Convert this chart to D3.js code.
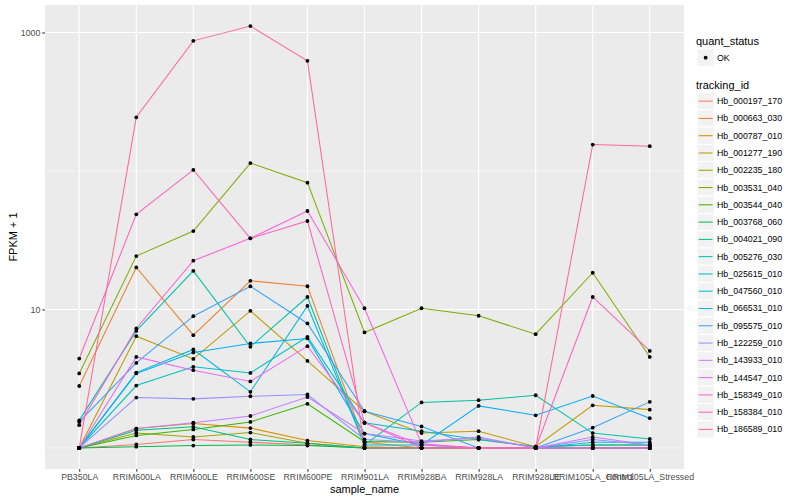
<!DOCTYPE html>
<html><head><meta charset="utf-8">
<script src="https://cdn.jsdelivr.net/npm/d3@7"></script>
<style>body{margin:0;background:#fff}svg{display:block;font-family:"Liberation Sans",Arial,Helvetica,sans-serif}</style>
</head><body><svg id="c" width="800" height="500"></svg>
<script>
const samples = ["PB350LA","RRIM600LA","RRIM600LE","RRIM600SE","RRIM600PE","RRIM901LA","RRIM928BA","RRIM928LA","RRIM928LE","RRIM105LA_Control","RRIM105LA_Stressed"];
const trackingIds = ["Hb_000197_170","Hb_000663_030","Hb_000787_010","Hb_001277_190","Hb_002235_180","Hb_003531_040","Hb_003544_040","Hb_003768_060","Hb_004021_090","Hb_005276_030","Hb_025615_010","Hb_047560_010","Hb_066531_010","Hb_095575_010","Hb_122259_010","Hb_143933_010","Hb_144547_010","Hb_158349_010","Hb_158384_010","Hb_186589_010"];
const colors = ["#F8766D","#EA8331","#D89000","#C09B00","#A3A500","#7CAE00","#39B600","#00BB4E","#00BF7D","#00C1A3","#00BFC4","#00BAE0","#00B0F6","#35A2FF","#9590FF","#C77CFF","#E76BF3","#FA62DB","#FF62BC","#FF6A98"];
// FPKM + 1 values, one array per tracking_id, in sample order
const v000197 = [1, 1.06, 1.15, 1.10, 1.05, 1, 1, 1, 1, 1, 1];
const v000663 = [2.80, 20.1, 6.52, 16.1, 14.7, 1.10, 1, 1, 1, 1, 1];
const v000787 = [1, 1.38, 1.50, 1.39, 1.13, 1.02, 1, 1, 1, 1, 1];
const v001277 = [1, 6.41, 4.39, 9.77, 4.25, 1.84, 1.28, 1.32, 1.02, 2.03, 1.89];
const v002235 = [1, 1.28, 1.20, 1.29, 1.08, 1, 1, 1, 1, 1, 1];
const v003531 = [3.45, 24.3, 36.8, 114, 82.3, 6.82, 10.2, 9.0, 6.63, 18.4, 4.54];
const v003544 = [1, 1.23, 1.36, 1.54, 2.08, 1.11, 1.10, 1.15, 1.02, 1.05, 1.05];
const v003768 = [1, 1.02, 1.04, 1.05, 1.04, 1, 1, 1, 1, 1, 1];
const v004021 = [1, 1.34, 1.42, 1.15, 1.08, 1, 1, 1, 1, 1, 1];
const v005276 = [1.58, 7.0, 19.0, 5.37, 12.3, 1.05, 2.13, 2.21, 2.40, 1.28, 1.16];
const v025615 = [1, 2.82, 3.85, 3.48, 6.34, 1.52, 1.32, 1.15, 1.02, 1.05, 1.05];
const v047560 = [1, 3.50, 5.14, 2.54, 10.6, 1.05, 1.05, 1.0, 1.0, 1.10, 1.10];
const v066531 = [1, 3.45, 4.89, 5.68, 6.17, 1.27, 1.05, 2.01, 1.72, 2.37, 1.64];
const v095575 = [1.54, 4.11, 8.94, 14.7, 7.92, 1.84, 1.43, 1.0, 1.0, 1.40, 2.15];
const v122259 = [1, 2.31, 2.26, 2.36, 2.43, 1.15, 1.10, 1.20, 1.0, 1.15, 1.05];
const v143933 = [1, 1.38, 1.52, 1.70, 2.33, 1.27, 1.12, 1.18, 1.0, 1.20, 1.05];
const v144547 = [1, 4.54, 3.64, 3.02, 5.43, 1.52, 1.05, 1, 1, 1, 1];
const v158349 = [1.46, 7.29, 22.5, 32.6, 51.4, 10.2, 1.07, 1, 1, 1, 1];
const v158384 = [4.42, 48.6, 101.7, 32.6, 43.5, 1.52, 1, 1, 1, 12.3, 5.02];
const v186589 = [1, 244, 870, 1112, 624, 1, 1, 1, 1, 155, 151];
const seriesValues = [v000197,v000663,v000787,v001277,v002235,v003531,v003544,v003768,v004021,v005276,v025615,v047560,v066531,v095575,v122259,v143933,v144547,v158349,v158384,v186589];
const yMajor = [10, 1000];
const yMinor = [1, 100];

const svg = d3.select("#c");
const P = {l:45, r:684, t:5, b:469};
const all = seriesValues.flat();
const lo = Math.log10(d3.min(all)), hi = Math.log10(d3.max(all));
const ex = (hi - lo) * 0.05;
const y = d3.scaleLog().domain([Math.pow(10, lo - ex), Math.pow(10, hi + ex)]).range([P.b, P.t]);
const x = d3.scalePoint().domain(samples).range([P.l, P.r]).padding(0.6);

svg.append("rect").attr("x",P.l).attr("y",P.t).attr("width",P.r-P.l).attr("height",P.b-P.t).attr("fill","#EBEBEB");
const g = svg.append("g");
g.selectAll("line.ymin").data(yMinor).join("line").attr("x1",P.l).attr("x2",P.r).attr("y1",d=>y(d)).attr("y2",d=>y(d)).attr("stroke","#fff").attr("stroke-width",0.55);
g.selectAll("line.ymaj").data(yMajor).join("line").attr("x1",P.l).attr("x2",P.r).attr("y1",d=>y(d)).attr("y2",d=>y(d)).attr("stroke","#fff").attr("stroke-width",1.1);
g.selectAll("line.xmaj").data(samples).join("line").attr("x1",d=>x(d)).attr("x2",d=>x(d)).attr("y1",P.t).attr("y2",P.b).attr("stroke","#fff").attr("stroke-width",1.1);

const line = d3.line().x((d,i)=>x(samples[i])).y(d=>y(d));
const series = trackingIds.map((id,k)=>({id, color:colors[k], values:seriesValues[k]}));
svg.append("g").selectAll("path").data(series).join("path")
  .attr("d", d=>line(d.values)).attr("fill","none").attr("stroke",d=>d.color).attr("stroke-width",1.05);
const pts = series.flatMap(s=>s.values.map((v,i)=>({s:samples[i], v})));
svg.append("g").selectAll("circle").data(pts).join("circle")
  .attr("cx",d=>x(d.s)).attr("cy",d=>y(d.v)).attr("r",1.9).attr("fill","#000");

// axes
const xa = svg.append("g").attr("transform",`translate(0,${P.b})`).call(d3.axisBottom(x).tickSize(2.7).tickPadding(2));
xa.select(".domain").remove();
xa.selectAll("line").attr("stroke","#333").attr("stroke-width",1.05);
xa.selectAll("text").attr("fill","#4D4D4D").attr("font-size","8.8px").attr("font-family","Liberation Sans, Arial, sans-serif");
const ya = svg.append("g").attr("transform",`translate(${P.l},0)`).call(d3.axisLeft(y).tickValues(yMajor).tickFormat(d3.format("d")).tickSize(2.7).tickPadding(2));
ya.select(".domain").remove();
ya.selectAll("line").attr("stroke","#333").attr("stroke-width",1.05);
ya.selectAll("text").attr("fill","#4D4D4D").attr("font-size","8.8px").attr("font-family","Liberation Sans, Arial, sans-serif");

svg.append("text").attr("x",(P.l+P.r)/2).attr("y",493).attr("text-anchor","middle").attr("font-size","11px").attr("fill","#000").text("sample_name");
svg.append("text").attr("transform",`translate(17,${(P.t+P.b)/2}) rotate(-90)`).attr("text-anchor","middle").attr("font-size","11px").attr("fill","#000").text("FPKM + 1");

// legend
const L = svg.append("g");
const kx = 697, ks = 17.28;
L.append("text").attr("x",696).attr("y",44.5).attr("font-size","11px").text("quant_status");
L.append("rect").attr("x",kx).attr("y",49).attr("width",ks).attr("height",ks).attr("fill","#F2F2F2").attr("stroke","#fff");
L.append("circle").attr("cx",kx+ks/2).attr("cy",49+ks/2).attr("r",1.9).attr("fill","#000");
L.append("text").attr("x",717).attr("y",49+ks/2+3).attr("font-size","8.8px").text("OK");
L.append("text").attr("x",696).attr("y",89).attr("font-size","11px").text("tracking_id");
const top0 = 92.5;
const items = L.selectAll("g.it").data(series).join("g").attr("transform",(d,i)=>`translate(${kx},${top0+i*ks})`);
items.append("rect").attr("width",ks).attr("height",ks).attr("fill","#F2F2F2").attr("stroke","#fff");
items.append("line").attr("x1",1.7).attr("x2",ks-1.7).attr("y1",ks/2).attr("y2",ks/2).attr("stroke",d=>d.color).attr("stroke-width",1.05);
items.append("text").attr("x",20).attr("y",ks/2+3).attr("font-size","8.8px").attr("fill","#000").text(d=>d.id);
</script></body></html>
